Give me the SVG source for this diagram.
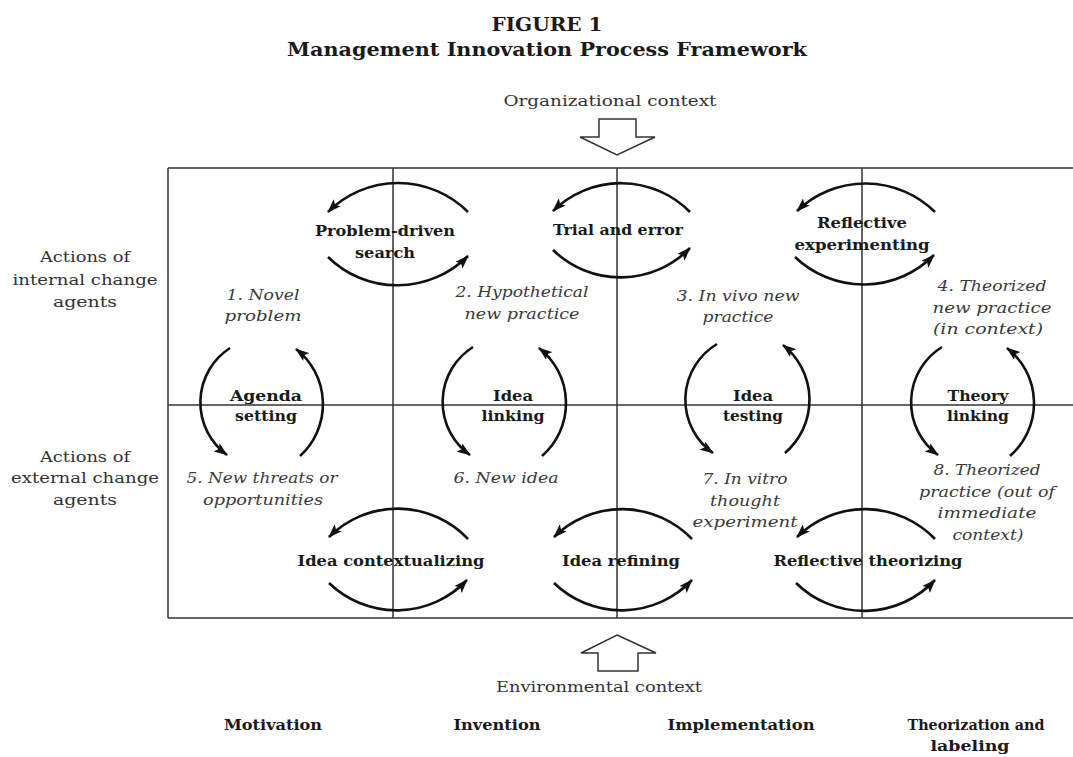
<svg xmlns="http://www.w3.org/2000/svg" width="1073" height="757" viewBox="0 0 1073 757">
<style>
text{font-family:"DejaVu Serif","Liberation Serif",serif;text-anchor:middle}
.t{font-weight:bold;font-size:19px;fill:#1a1a1a}
.b{font-weight:bold;font-size:15px;fill:#1a1a1a}
.i{font-style:italic;font-size:15px;fill:#3a3a3a}
.r{font-size:15px;fill:#333}
.frame line{stroke:#333;stroke-width:1.5}
.conn path{fill:none;stroke:#111;stroke-width:2.6}
.blk{fill:#fff;stroke:#333;stroke-width:1.5;stroke-linejoin:miter}
</style>
<defs>
<marker id="ah" viewBox="0 0 14 10" refX="13" refY="5" markerWidth="14" markerHeight="10" markerUnits="userSpaceOnUse" orient="auto">
<path d="M0,0 L14,5 L0,10 L3,5 z" fill="#111"/>
</marker>
</defs>
<rect width="1073" height="757" fill="#fff"/>
<g id="title">
<text class="t" x="547" y="31" textLength="111" lengthAdjust="spacingAndGlyphs">FIGURE 1</text>
<text class="t" x="547" y="56" textLength="520" lengthAdjust="spacingAndGlyphs">Management Innovation Process Framework</text>
</g>
<g id="org-context">
<text class="r" x="610" y="106" textLength="213" lengthAdjust="spacingAndGlyphs">Organizational context</text>
<polygon class="blk" points="599,119 636,119 636,137 655,137 617,155 580,137 599,137"/>
</g>
<g id="env-context">
<polygon class="blk" points="617,635 656,653 638,653 638,671 598,671 598,653 581,653"/>
<text class="r" x="599" y="692" textLength="206" lengthAdjust="spacingAndGlyphs">Environmental context</text>
</g>
<g class="frame" id="frame">
<line x1="168" y1="168" x2="1073" y2="168"/>
<line x1="168" y1="618" x2="1073" y2="618"/>
<line x1="168" y1="405" x2="1073" y2="405"/>
<line x1="168" y1="168" x2="168" y2="618"/>
<line x1="393" y1="168" x2="393" y2="618"/>
<line x1="617" y1="168" x2="617" y2="618"/>
<line x1="862" y1="168" x2="862" y2="618"/>
</g>
<g id="row-internal">
<text class="r" x="85" y="262" textLength="90" lengthAdjust="spacingAndGlyphs">Actions of</text>
<text class="r" x="85" y="285" textLength="145" lengthAdjust="spacingAndGlyphs">internal change</text>
<text class="r" x="85" y="307" textLength="64" lengthAdjust="spacingAndGlyphs">agents</text>
</g>
<g id="row-external">
<text class="r" x="85" y="462" textLength="90" lengthAdjust="spacingAndGlyphs">Actions of</text>
<text class="r" x="85" y="483" textLength="148" lengthAdjust="spacingAndGlyphs">external change</text>
<text class="r" x="85" y="505" textLength="64" lengthAdjust="spacingAndGlyphs">agents</text>
</g>
<g class="conn" id="connectors">
<path d="M468,212 A99,99 0 0 0 328,212" marker-end="url(#ah)"/>
<path d="M328,257 A99,99 0 0 0 468,256" marker-end="url(#ah)"/>
<path d="M690,212 A97,97 0 0 0 553,211" marker-end="url(#ah)"/>
<path d="M553,250 A97,97 0 0 0 690,248" marker-end="url(#ah)"/>
<path d="M935,212 A99,99 0 0 0 797,211" marker-end="url(#ah)"/>
<path d="M795,257 A99,99 0 0 0 934,255" marker-end="url(#ah)"/>
<path d="M230,348 A65,65 0 0 0 227,455" marker-end="url(#ah)"/>
<path d="M300,456 A70,70 0 0 0 296,349" marker-end="url(#ah)"/>
<path d="M473,347 A65,65 0 0 0 470,455" marker-end="url(#ah)"/>
<path d="M542,456 A70,70 0 0 0 539,348" marker-end="url(#ah)"/>
<path d="M717,344 A65,65 0 0 0 713,453" marker-end="url(#ah)"/>
<path d="M785,453 A70,70 0 0 0 783,345" marker-end="url(#ah)"/>
<path d="M942,347 A65,65 0 0 0 938,455" marker-end="url(#ah)"/>
<path d="M1010,456 A70,70 0 0 0 1007,348" marker-end="url(#ah)"/>
<path d="M468,539 A97,97 0 0 0 329,537" marker-end="url(#ah)"/>
<path d="M329,583 A97,97 0 0 0 467,580" marker-end="url(#ah)"/>
<path d="M692,539 A97,97 0 0 0 554,537" marker-end="url(#ah)"/>
<path d="M554,583 A97,97 0 0 0 692,580" marker-end="url(#ah)"/>
<path d="M935,539 A97,97 0 0 0 797,537" marker-end="url(#ah)"/>
<path d="M796,583 A97,97 0 0 0 935,580" marker-end="url(#ah)"/>
</g>
<g id="problem-driven-search">
<text class="b" x="385" y="236" textLength="140" lengthAdjust="spacingAndGlyphs">Problem-driven</text>
<text class="b" x="385" y="258" textLength="60" lengthAdjust="spacingAndGlyphs">search</text>
</g>
<g id="trial-and-error">
<text class="b" x="618" y="235" textLength="130" lengthAdjust="spacingAndGlyphs">Trial and error</text>
</g>
<g id="reflective-experimenting">
<text class="b" x="862" y="228" textLength="90" lengthAdjust="spacingAndGlyphs">Reflective</text>
<text class="b" x="862" y="250" textLength="135" lengthAdjust="spacingAndGlyphs">experimenting</text>
</g>
<g id="agenda-setting">
<text class="b" x="266" y="401" textLength="72" lengthAdjust="spacingAndGlyphs">Agenda</text>
<text class="b" x="266" y="421" textLength="62" lengthAdjust="spacingAndGlyphs">setting</text>
</g>
<g id="idea-linking">
<text class="b" x="513" y="401" textLength="40" lengthAdjust="spacingAndGlyphs">Idea</text>
<text class="b" x="513" y="421" textLength="63" lengthAdjust="spacingAndGlyphs">linking</text>
</g>
<g id="idea-testing">
<text class="b" x="753" y="401" textLength="40" lengthAdjust="spacingAndGlyphs">Idea</text>
<text class="b" x="753" y="421" textLength="60" lengthAdjust="spacingAndGlyphs">testing</text>
</g>
<g id="theory-linking">
<text class="b" x="978" y="401" textLength="61" lengthAdjust="spacingAndGlyphs">Theory</text>
<text class="b" x="978" y="421" textLength="62" lengthAdjust="spacingAndGlyphs">linking</text>
</g>
<g id="idea-contextualizing">
<text class="b" x="391" y="566" textLength="187" lengthAdjust="spacingAndGlyphs">Idea contextualizing</text>
</g>
<g id="idea-refining">
<text class="b" x="621" y="566" textLength="118" lengthAdjust="spacingAndGlyphs">Idea refining</text>
</g>
<g id="reflective-theorizing">
<text class="b" x="868" y="566" textLength="189" lengthAdjust="spacingAndGlyphs">Reflective theorizing</text>
</g>
<g id="s1">
<text class="i" x="263" y="300" textLength="73" lengthAdjust="spacingAndGlyphs">1. Novel</text>
<text class="i" x="263" y="321" textLength="77" lengthAdjust="spacingAndGlyphs">problem</text>
</g>
<g id="s2">
<text class="i" x="522" y="297" textLength="133" lengthAdjust="spacingAndGlyphs">2. Hypothetical</text>
<text class="i" x="522" y="319" textLength="115" lengthAdjust="spacingAndGlyphs">new practice</text>
</g>
<g id="s3">
<text class="i" x="738" y="301" textLength="123" lengthAdjust="spacingAndGlyphs">3. In vivo new</text>
<text class="i" x="738" y="322" textLength="71" lengthAdjust="spacingAndGlyphs">practice</text>
</g>
<g id="s4">
<text class="i" x="992" y="291" textLength="109" lengthAdjust="spacingAndGlyphs">4. Theorized</text>
<text class="i" x="992" y="313" textLength="119" lengthAdjust="spacingAndGlyphs">new practice</text>
<text class="i" x="988" y="334" textLength="110" lengthAdjust="spacingAndGlyphs">(in context)</text>
</g>
<g id="s5">
<text class="i" x="262" y="483" textLength="151" lengthAdjust="spacingAndGlyphs">5. New threats or</text>
<text class="i" x="263" y="505" textLength="120" lengthAdjust="spacingAndGlyphs">opportunities</text>
</g>
<g id="s6">
<text class="i" x="506" y="483" textLength="105" lengthAdjust="spacingAndGlyphs">6. New idea</text>
</g>
<g id="s7">
<text class="i" x="745" y="484" textLength="85" lengthAdjust="spacingAndGlyphs">7. In vitro</text>
<text class="i" x="745" y="506" textLength="70" lengthAdjust="spacingAndGlyphs">thought</text>
<text class="i" x="745" y="527" textLength="105" lengthAdjust="spacingAndGlyphs">experiment</text>
</g>
<g id="s8">
<text class="i" x="987" y="475" textLength="107" lengthAdjust="spacingAndGlyphs">8. Theorized</text>
<text class="i" x="987" y="497" textLength="136" lengthAdjust="spacingAndGlyphs">practice (out of</text>
<text class="i" x="987" y="518" textLength="99" lengthAdjust="spacingAndGlyphs">immediate</text>
<text class="i" x="988" y="540" textLength="71" lengthAdjust="spacingAndGlyphs">context)</text>
</g>
<g id="phases">
<text class="b" x="273" y="730" textLength="98" lengthAdjust="spacingAndGlyphs">Motivation</text>
<text class="b" x="497" y="730" textLength="87" lengthAdjust="spacingAndGlyphs">Invention</text>
<text class="b" x="741" y="730" textLength="147" lengthAdjust="spacingAndGlyphs">Implementation</text>
<text class="b" x="976" y="730" textLength="137" lengthAdjust="spacingAndGlyphs">Theorization and</text>
<text class="b" x="970" y="751" textLength="79" lengthAdjust="spacingAndGlyphs">labeling</text>
</g>
</svg>
